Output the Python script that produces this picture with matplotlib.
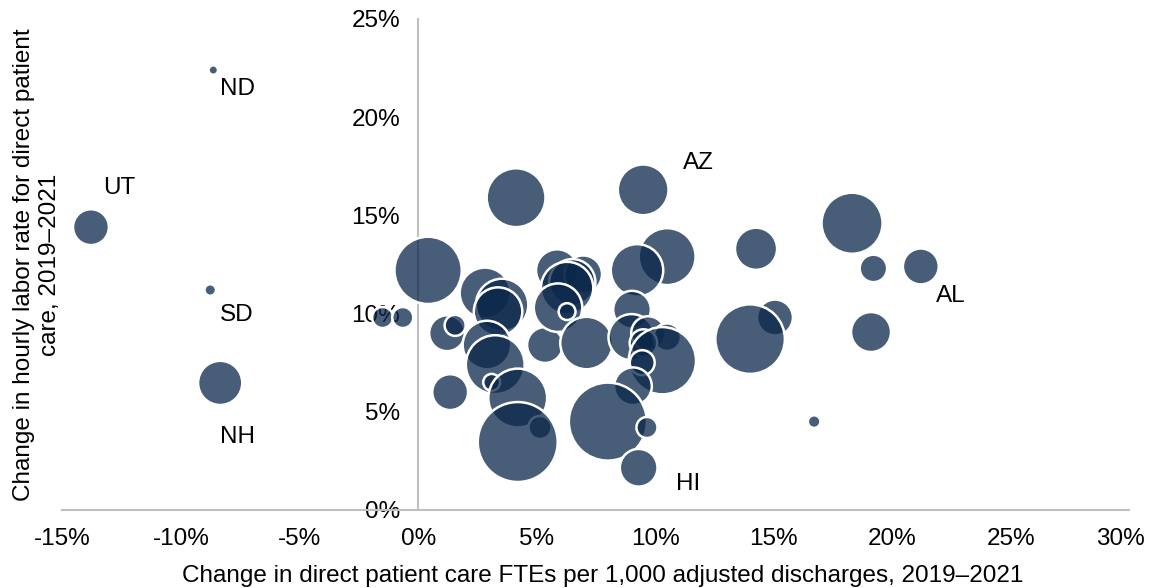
import numpy as np
import matplotlib.pyplot as plt
from matplotlib.transforms import ScaledTranslation

plt.rcParams['font.family'] = ['Liberation Sans', 'DejaVu Sans']

# change in direct patient care FTEs per 1,000 adjusted discharges (%)
fte_change = [-13.8, -8.64, -8.77, -8.35, -1.5, -0.65, 0.42, 4.13, 9.49, 14.25,
              18.3, 19.2, 21.2, 15.05, 14.0, 19.1, 16.7, 1.22, 1.56, 1.35,
              2.82, 3.54, 3.37, 2.9, 3.25, 3.1, 4.2, 5.14, 4.2, 5.35,
              5.86, 6.96, 6.5, 6.28, 5.9, 6.28, 7.1, 10.5, 9.23, 9.02,
              9.0, 9.7, 10.5, 9.5, 10.3, 9.45, 9.06, 8.0, 9.65, 9.3]
# change in hourly labor rate for direct patient care (%)
rate_change = [14.4, 22.4, 11.2, 6.47, 9.8, 9.8, 12.2, 15.9, 16.3, 13.3,
               14.6, 12.3, 12.4, 9.8, 8.7, 9.06, 4.5, 9.0, 9.4, 6.0,
               11.05, 10.44, 10.1, 8.4, 7.4, 6.5, 5.7, 4.2, 3.46, 8.4,
               12.2, 12.0, 11.6, 11.3, 10.3, 10.1, 8.5, 12.9, 12.2, 10.2,
               8.8, 9.0, 8.8, 8.5, 7.6, 7.5, 6.3, 4.5, 4.2, 2.15]
# bubble size (relative volume)
volume = [29, 2, 3, 44, 10, 10, 102, 78, 58, 40,
          84, 17, 29, 29, 109, 36, 3.6, 29, 10, 29,
          58, 62, 53, 53, 78, 6.4, 78, 12, 144, 29,
          40, 32, 48, 62, 53, 6.4, 62, 73, 62, 32,
          48, 26, 17, 17, 102, 14, 32, 137, 10, 32]
state = ['UT', 'ND', 'SD', 'NH', '', '', '', '', 'AZ', '',
         '', '', 'AL', '', '', '', '', '', '', '',
         '', '', '', '', '', '', '', '', '', '',
         '', '', '', '', '', '', '', '', '', '',
         '', '', '', '', '', '', '', '', '', 'HI']

label_offset = {'UT': (9, 28), 'ND': (5, -14), 'SD': (7, -18), 'NH': (0, -39),
                'AZ': (29, 19), 'AL': (11, -21), 'HI': (27, -12)}

fs = 17.5
fig = plt.figure(figsize=(11.51, 5.88), dpi=100)
ax = fig.add_axes([0.0543, 0.1327, 0.927, 0.835])

face = (11/255, 39/255, 74/255, 0.75)
ax.scatter(fte_change, rate_change, s=np.array(volume)*23, c=[face],
           edgecolors='white', linewidths=1.8, zorder=3)

for x, y, st in zip(fte_change, rate_change, state):
    if st:
        ax.annotate(st, (x, y), xytext=label_offset[st], textcoords='offset points',
                    ha='left', va='center', fontsize=fs, zorder=4)

ax.set_xlim(-15, 30)
ax.set_ylim(0, 25)
ax.set_xticks(np.arange(-15, 31, 5))
ax.set_yticks(np.arange(0, 26, 5))
ax.set_xticklabels([f'{v}%' for v in range(-15, 31, 5)])
ax.set_yticklabels([f'{v}%' for v in range(0, 26, 5)])
ax.tick_params(length=0, labelsize=fs)
ax.tick_params(axis='x', pad=13)
ax.tick_params(axis='y', pad=13)
# last label nudged left so it stays inside the figure
last = ax.get_xticklabels()[-1]
last.set_transform(last.get_transform() + ScaledTranslation(-0.09, 0, fig.dpi_scale_trans))

for sp in ['top', 'right']:
    ax.spines[sp].set_visible(False)
ax.spines['left'].set_position(('data', 0))
ax.spines['left'].set_color('#bfbfbf')
ax.spines['bottom'].set_color('#bfbfbf')
ax.spines['left'].set_linewidth(1.5)
ax.spines['bottom'].set_linewidth(1.5)
ax.spines['left'].set_zorder(1)

fig.text(603/1151, 1-576/588,
         'Change in direct patient care FTEs per 1,000 adjusted discharges, 2019\u20132021',
         ha='center', va='center', fontsize=fs)
fig.text(37/1151, 1-265/588,
         'Change in hourly labor rate for direct patient\ncare, 2019\u20132021',
         ha='center', va='center', rotation=90, fontsize=fs, linespacing=1.2,
         multialignment='center')

fig.savefig('out.png')
